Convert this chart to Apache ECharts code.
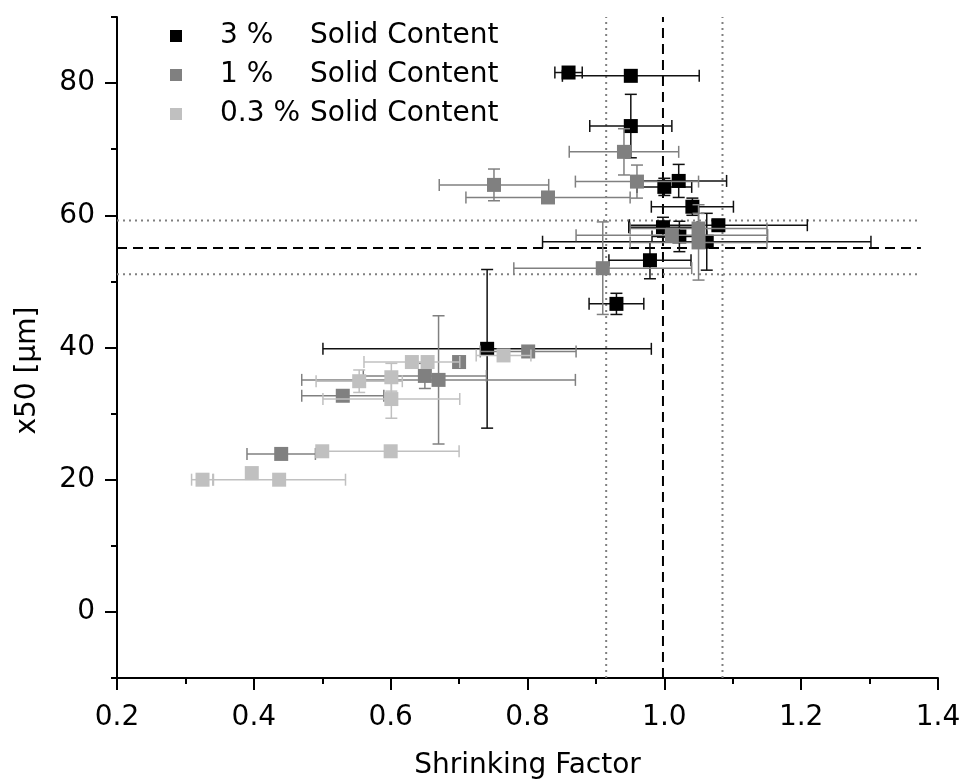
<!DOCTYPE html>
<html>
<head>
<meta charset="utf-8">
<script src="https://cdn.jsdelivr.net/npm/echarts@6/dist/echarts.min.js"></script>
<style>
  html, body { margin: 0; padding: 0; background: #fff; }
  #chart { width: 962px; height: 782px; }
</style>
</head>
<body>
<div id="chart"></div>
<script>
// Series labels (solid content of the suspension)
const solidLabels = ['3 %', '1 %', '0.3 %'];
const legendSuffix = 'Solid Content';

// 3 % solid content: shrinking factor, x50 and their standard deviations
const sf3 = [0.860, 0.951, 0.951, 1.021, 1.000, 1.041, 1.079, 0.998, 1.022, 1.062, 0.979, 0.930, 0.741];
const x50_3 = [81.6, 81.1, 73.5, 65.2, 64.3, 61.3, 58.5, 58.2, 56.8, 56.0, 53.2, 46.6, 39.8];
const sfErr3 = [0.02, 0.10, 0.06, 0.07, 0.04, 0.06, 0.13, 0.05, 0.04, 0.24, 0.06, 0.04, 0.24];
const x50Err3 = [0.4, 0.5, 4.8, 2.5, 1.3, 1.3, 0.8, 1.5, 2.3, 4.3, 2.8, 1.6, 12.0];

// 1 % solid content
const sf1 = [0.941, 0.960, 0.751, 0.830, 1.011, 1.050, 1.050, 0.910, 0.801, 0.700, 0.650, 0.670, 0.530, 0.440];
const x50_1 = [69.6, 65.1, 64.6, 62.7, 57.0, 58.0, 55.9, 52.0, 39.4, 37.8, 35.7, 35.1, 32.7, 23.9];
const sfErr1 = [0.08, 0.09, 0.08, 0.12, 0.14, 0.10, 0.10, 0.13, 0.07, 0.00, 0.09, 0.20, 0.06, 0.05];
const x50Err1 = [3.5, 2.5, 2.4, 0.5, 1.0, 2.3, 5.7, 7.0, 0.5, 0.5, 1.9, 9.7, 0.5, 0.4];

// 0.3 % solid content
const sf03 = [0.765, 0.631, 0.654, 0.554, 0.601, 0.601, 0.500, 0.600, 0.325, 0.397, 0.437];
const x50_03 = [38.8, 37.8, 37.8, 34.9, 35.5, 32.2, 24.3, 24.3, 20.0, 21.0, 20.0];
const sfErr03 = [0.04, 0.07, 0.00, 0.063, 0.00, 0.10, 0.00, 0.10, 0.016, 0.00, 0.097];
const x50Err03 = [0.6, 0.4, 0.4, 1.7, 2.1, 2.9, 0.4, 0.4, 0.4, 0.4, 0.4];

// Mean and standard-deviation band of the reference values
const meanSF = 0.998, sfBandLow = 0.915, sfBandHigh = 1.085;
const meanX50 = 55.05, x50BandLow = 51.1, x50BandHigh = 59.2;
const hLineEnd = 1.375;

// Axis ranges and tick values
const xMin = 0.2, xMax = 1.4, xStep = 0.2;
const yMin = -10, yMax = 90;
const yMajorTicks = [0, 20, 40, 60, 80];
const yMinorTicks = [-10, 10, 30, 50, 70, 90];

const FONT = '"DejaVu Sans", "Liberation Sans", Arial, sans-serif';
const colors = ['#000000', '#808080', '#c0c0c0'];
const barColors = ['#111111', '#808080', '#c0c0c0'];

function zip(xs, ys, dxs, dys) {
  return xs.map((x, i) => [x, ys[i], dxs[i], dys[i]]);
}

const groups = [
  zip(sf3, x50_3, sfErr3, x50Err3),
  zip(sf1, x50_1, sfErr1, x50Err1),
  zip(sf03, x50_03, sfErr03, x50Err03)
];

const CAP = 6;
function errorBars(name, data, color, z) {
  return {
    type: 'custom',
    name: name,
    z: z,
    silent: true,
    data: data,
    encode: { x: 0, y: 1 },
    renderItem: function (params, api) {
      const x = api.value(0), y = api.value(1);
      const dx = api.value(2), dy = api.value(3);
      const style = { stroke: color, lineWidth: 1.5, fill: null };
      const kids = [];
      if (dx > 0) {
        const l = api.coord([x - dx, y]);
        const r = api.coord([x + dx, y]);
        kids.push({ type: 'line', shape: { x1: l[0], y1: l[1], x2: r[0], y2: r[1] }, style: style });
        kids.push({ type: 'line', shape: { x1: l[0], y1: l[1] - CAP, x2: l[0], y2: l[1] + CAP }, style: style });
        kids.push({ type: 'line', shape: { x1: r[0], y1: r[1] - CAP, x2: r[0], y2: r[1] + CAP }, style: style });
      }
      if (dy > 0) {
        const b = api.coord([x, y - dy]);
        const t = api.coord([x, y + dy]);
        kids.push({ type: 'line', shape: { x1: b[0], y1: b[1], x2: t[0], y2: t[1] }, style: style });
        kids.push({ type: 'line', shape: { x1: b[0] - CAP, y1: b[1], x2: b[0] + CAP, y2: b[1] }, style: style });
        kids.push({ type: 'line', shape: { x1: t[0] - CAP, y1: t[1], x2: t[0] + CAP, y2: t[1] }, style: style });
      }
      return { type: 'group', children: kids };
    }
  };
}

function points(name, data, color, z) {
  return {
    type: 'scatter',
    name: name,
    z: z,
    symbol: 'rect',
    symbolSize: 14,
    itemStyle: { color: color, opacity: 1 },
    data: data.map(d => [d[0], d[1]]),
    emphasis: { disabled: true }
  };
}

function refLine(p1, p2, color, dash, width) {
  return {
    type: 'line',
    z: 1,
    silent: true,
    symbol: 'none',
    data: [p1, p2],
    lineStyle: { color: color, type: dash, width: width },
    animation: false
  };
}

const series = [
  refLine([meanSF, yMin], [meanSF, yMax], '#000', [10, 6], 2),
  refLine([sfBandLow, yMin], [sfBandLow, yMax], '#808080', [2, 4], 2),
  refLine([sfBandHigh, yMin], [sfBandHigh, yMax], '#808080', [2, 4], 2),
  refLine([xMin, meanX50], [hLineEnd, meanX50], '#000', [10, 6], 2),
  refLine([xMin, x50BandHigh], [hLineEnd, x50BandHigh], '#808080', [2, 4], 2),
  refLine([xMin, x50BandLow], [hLineEnd, x50BandLow], '#808080', [2, 4], 2)
];
groups.forEach((g, i) => {
  series.push(errorBars(solidLabels[i], g, barColors[i], 2 + i * 2));
  series.push(points(solidLabels[i], g, colors[i], 3 + i * 2));
});

const axisLineStyle = { color: '#000', width: 2 };

const option = {
  animation: false,
  backgroundColor: '#fff',
  textStyle: { fontFamily: FONT },
  grid: { left: 117, right: 24, top: 17, bottom: 104, containLabel: false, outerBoundsMode: 'none' },
  legend: {
    orient: 'vertical',
    left: 170,
    top: 22,
    padding: 0,
    itemGap: 11,
    itemWidth: 12,
    itemHeight: 12,
    selectedMode: false,
    data: solidLabels.map((n, i) => ({ name: n, icon: 'rect', itemStyle: { color: colors[i] } })),
    formatter: function (name) { return '{p|' + name + '}{s|' + legendSuffix + '}'; },
    textStyle: {
      fontFamily: FONT,
      fontSize: 28,
      color: '#000',
      rich: {
        p: { fontFamily: FONT, fontSize: 28, color: '#000', width: 90, padding: [0, 0, 0, 33] },
        s: { fontFamily: FONT, fontSize: 28, color: '#000' }
      }
    }
  },
  xAxis: {
    type: 'value',
    min: xMin,
    max: xMax,
    interval: xStep,
    name: 'Shrinking Factor',
    nameLocation: 'middle',
    nameGap: 74,
    nameTextStyle: { fontFamily: FONT, fontSize: 28, color: '#000' },
    axisLine: { show: true, onZero: false, lineStyle: axisLineStyle },
    axisTick: { show: true, length: 12, lineStyle: axisLineStyle },
    minorTick: { show: true, splitNumber: 2, length: 6, lineStyle: axisLineStyle },
    axisLabel: {
      margin: 26,
      fontFamily: FONT,
      fontSize: 28,
      color: '#000',
      formatter: v => v.toFixed(1)
    },
    splitLine: { show: false }
  },
  yAxis: [
    {
      type: 'value',
      min: yMin,
      max: yMax,
      name: 'x50 [µm]',
      nameLocation: 'middle',
      nameGap: 75,
      nameRotate: 90,
      nameTextStyle: { fontFamily: FONT, fontSize: 28, color: '#000', padding: [0, 46, 0, 0] },
      axisLine: { show: true, onZero: false, lineStyle: axisLineStyle },
      axisTick: { show: true, length: 12, lineStyle: axisLineStyle, customValues: yMajorTicks },
      axisLabel: {
        margin: 22,
        fontFamily: FONT,
        fontSize: 28,
        color: '#000',
        customValues: yMajorTicks
      },
      splitLine: { show: false }
    },
    {
      type: 'value',
      min: yMin,
      max: yMax,
      position: 'left',
      axisLine: { show: false },
      axisTick: { show: true, length: 6, lineStyle: axisLineStyle, customValues: yMinorTicks },
      axisLabel: { show: false, customValues: yMinorTicks },
      splitLine: { show: false }
    }
  ],
  series: series
};

const chart = echarts.init(document.getElementById('chart'), null, { renderer: 'canvas' });
chart.setOption(option);
</script>
</body>
</html>
